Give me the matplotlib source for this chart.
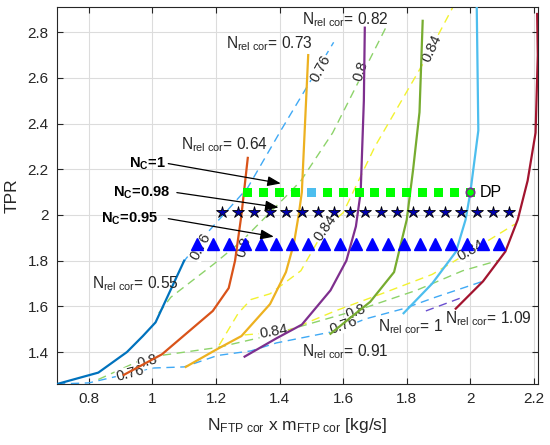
import numpy as np
import matplotlib
matplotlib.use('Agg')
import matplotlib.pyplot as plt

plt.rcParams['font.family'] = ['Liberation Sans', 'DejaVu Sans']
plt.rcParams['mathtext.fontset'] = 'custom'
plt.rcParams['mathtext.rm'] = 'Liberation Sans'
plt.rcParams['mathtext.it'] = 'Liberation Sans:italic'
plt.rcParams['mathtext.bf'] = 'Liberation Sans:bold'

# speed lines N_rel cor
speed_names = ['0.55', '0.64', '0.73', '0.82', '0.91', '1', '1.09']
speed_x = [
    [0.70, 0.83, 0.92, 0.97, 1.01, 1.05, 1.10],
    [0.91, 1.03, 1.19, 1.24, 1.26, 1.28, 1.30],
    [1.105, 1.20, 1.28, 1.37, 1.42, 1.445, 1.46, 1.47, 1.48, 1.49],
    [1.29, 1.39, 1.47, 1.56, 1.61, 1.64, 1.655, 1.665, 1.668],
    [1.56, 1.685, 1.76, 1.80, 1.82, 1.84, 1.85],
    [1.79, 1.88, 1.955, 1.985, 2.0, 2.025, 2.02],
    [1.954, 2.04, 2.11, 2.149, 2.18, 2.205, 2.212, 2.21],
]
speed_y = [
    [1.26, 1.31, 1.40, 1.47, 1.53, 1.65, 1.80],
    [1.30, 1.39, 1.58, 1.68, 1.80, 2.00, 2.25],
    [1.335, 1.41, 1.47, 1.61, 1.75, 1.875, 2.0, 2.1, 2.4, 2.70],
    [1.38, 1.46, 1.52, 1.67, 1.80, 1.95, 2.1, 2.5, 2.82],
    [1.48, 1.62, 1.75, 1.98, 2.2, 2.45, 2.85],
    [1.57, 1.70, 1.84, 1.98, 2.10, 2.37, 2.91],
    [1.59, 1.71, 1.84, 1.98, 2.15, 2.36, 2.70, 2.88],
]
speed_colors = ['#0072BD', '#D95319', '#EDB120', '#7E2F8E', '#77AC30', '#4DBEEE', '#A2142F']

# efficiency contours (dashed)
eff_076_x = [0.70, 0.80, 1.0, 1.10, 1.205, 1.31, 1.39, 1.57, 1.67, 1.79, 1.89, 2.04]
eff_076_y = [1.26, 1.265, 1.33, 1.335, 1.385, 1.405, 1.44, 1.49, 1.545, 1.59, 1.64, 1.71]
eff_076u_x = [1.095, 1.152, 1.30, 1.404, 1.57]
eff_076u_y = [1.79, 1.89, 2.12, 2.37, 2.756]
eff_080_x = [0.83, 0.98, 1.026, 1.205, 1.36, 1.435, 1.66, 1.83, 1.976, 2.086]
eff_080_y = [1.28, 1.375, 1.385, 1.42, 1.47, 1.50, 1.59, 1.67, 1.756, 1.80]
eff_080u_x = [1.02, 1.058, 1.193, 1.284, 1.426, 1.467, 1.567, 1.734]
eff_080u_y = [1.57, 1.64, 1.785, 1.89, 2.09, 2.15, 2.36, 2.82]
eff_084_x = [1.29, 1.42, 1.575, 1.73, 1.88, 2.0, 2.14]
eff_084_y = [1.475, 1.49, 1.58, 1.66, 1.74, 1.84, 1.96]
eff_084u_x = [1.21, 1.27, 1.31, 1.37, 1.467, 1.545, 1.6, 1.70, 1.85, 1.945]
eff_084u_y = [1.43, 1.57, 1.63, 1.655, 1.756, 1.945, 2.01, 2.30, 2.66, 2.91]
eff_072_x = [1.86, 1.976]
eff_072_y = [1.58, 1.64]

# operating lines
sq_x = np.round(np.arange(1.30, 2.001, 0.05), 2)
sq_y = 2.10
star_x = np.round(np.arange(1.22, 2.121, 0.05), 2)
star_y = 2.015
tri_x = np.round(np.arange(1.14, 2.091, 0.05), 2)
tri_y = 1.875
dp_x, dp_y = 2.0, 2.10

fig = plt.figure(figsize=(5.5, 4.45), dpi=100)
ax = fig.add_axes([0.1036, 0.137, 0.8745, 0.847])

for xs, ys, c in zip(speed_x, speed_y, speed_colors):
    ax.plot(xs, ys, color=c, lw=1.6, zorder=3)

dash = (0, (6, 4))
ax.plot(eff_076_x, eff_076_y, color='#3FA9F5', lw=1.0, ls=dash, zorder=2)
ax.plot(eff_076u_x, eff_076u_y, color='#3FA9F5', lw=1.0, ls=dash, zorder=2)
ax.plot(eff_080_x, eff_080_y, color='#8DD36A', lw=1.0, ls=dash, zorder=2)
ax.plot(eff_080u_x, eff_080u_y, color='#8DD36A', lw=1.0, ls=dash, zorder=2)
ax.plot(eff_084_x, eff_084_y, color='#F2F230', lw=1.0, ls=dash, zorder=2)
ax.plot(eff_084u_x, eff_084u_y, color='#F2F230', lw=1.0, ls=dash, zorder=2)
ax.plot(eff_072_x, eff_072_y, color='#6A4FD0', lw=1.0, ls=dash, zorder=2)

# contour labels
clabels = [
    ('0.76', 1.53, 2.64, 62), ('0.8', 1.655, 2.63, 72), ('0.84', 1.88, 2.73, 65),
    ('0.76', 1.152, 1.86, 62), ('0.8', 1.287, 1.86, 72), ('0.84', 1.545, 1.945, 55),
    ('0.84', 2.0, 1.845, 30), ('0.84', 1.38, 1.49, 10), ('0.8', 0.985, 1.36, 15),
    ('0.76', 0.93, 1.305, 15), ('0.8', 1.64, 1.575, 20), ('0.76', 1.60, 1.515, 20),
]
for s, x, y, r in clabels:
    ax.text(x, y, s, rotation=r, fontsize=10.5, color='#262626', ha='center', va='center',
            rotation_mode='anchor', zorder=2.5,
            bbox=dict(facecolor='white', edgecolor='none', pad=0.2))

sq_colors = ['#00FF00'] * len(sq_x)
sq_colors[4] = '#4DBEEE'
ax.scatter(sq_x, [sq_y] * len(sq_x), marker='s', s=42, c=sq_colors, edgecolors='none', zorder=4)
ax.plot(dp_x, dp_y, 'o', ms=6, mfc='none', mec='#7A2A8A', mew=1.2, zorder=5)
ax.text(2.03, dp_y, 'DP', fontsize=11.5, ha='left', va='center', color='black')
ax.plot(star_x, [star_y] * len(star_x), '*', ms=9, mfc='#0000B0', mec='black', mew=0.6, ls='none', zorder=4)
ax.plot(tri_x, [tri_y] * len(tri_x), '^', ms=8, mfc='#0000FF', mec='#0000FF', ls='none', zorder=4)

# speed line labels
sp_labels = [
    ('0.55', 0.81, 1.70), ('0.64', 1.09, 2.31), ('0.73', 1.23, 2.75), ('0.82', 1.47, 2.855),
    ('0.91', 1.47, 1.40), ('1', 1.71, 1.51), ('1.09', 1.92, 1.545),
]
for s, x, y in sp_labels:
    ax.text(x, y, r'N$_{\mathrm{rel\ cor}}$= ' + s, fontsize=11.2, color='#262626',
            ha='left', va='center', zorder=6)

# N_C arrows
nc_labels = ['1', '0.98', '0.95']
nc_text_x = [0.926, 0.875, 0.838]
nc_text_y = [2.225, 2.098, 1.984]
arr_start = [(1.05, 2.225), (1.077, 2.098), (1.05, 1.984)]
arr_end = [(1.404, 2.138), (1.397, 2.033), (1.382, 1.905)]
for s, tx, ty, st, en in zip(nc_labels, nc_text_x, nc_text_y, arr_start, arr_end):
    ax.text(tx, ty, r'N$_{\mathbf{C}}$=' + s, fontsize=10.5, fontweight='bold',
            ha='left', va='center', zorder=6)
    ax.annotate('', xy=en, xytext=st,
                arrowprops=dict(arrowstyle='-|>,head_length=0.8,head_width=0.3',
                                color='black', lw=0.9, shrinkA=0, shrinkB=0), zorder=6)

ax.set_xlim(0.7, 2.2125)
ax.set_ylim(1.26, 2.91)
ax.set_xticks([0.8, 1.0, 1.2, 1.4, 1.6, 1.8, 2.0, 2.2])
ax.set_xticklabels(['0.8', '1', '1.2', '1.4', '1.6', '1.8', '2', '2.2'])
ax.set_yticks([1.4, 1.6, 1.8, 2.0, 2.2, 2.4, 2.6, 2.8])
ax.set_yticklabels(['1.4', '1.6', '1.8', '2', '2.2', '2.4', '2.6', '2.8'])
ax.grid(True, color='#DCDCDC', lw=0.8)
ax.set_axisbelow(True)
ax.tick_params(direction='in', top=True, right=True, labelsize=11, colors='#262626', length=4, pad=6)
for sp in ax.spines.values():
    sp.set_color('#262626')
    sp.set_linewidth(0.8)

ax.set_xlabel(r'N$_{\mathrm{FTP\ cor}}$ x m$_{\mathrm{FTP\ cor}}$ [kg/s]', fontsize=12.5,
              color='#262626', labelpad=7)
ax.set_ylabel('TPR', fontsize=12.5, color='#262626', labelpad=6)

fig.savefig('out.png', dpi=100)
